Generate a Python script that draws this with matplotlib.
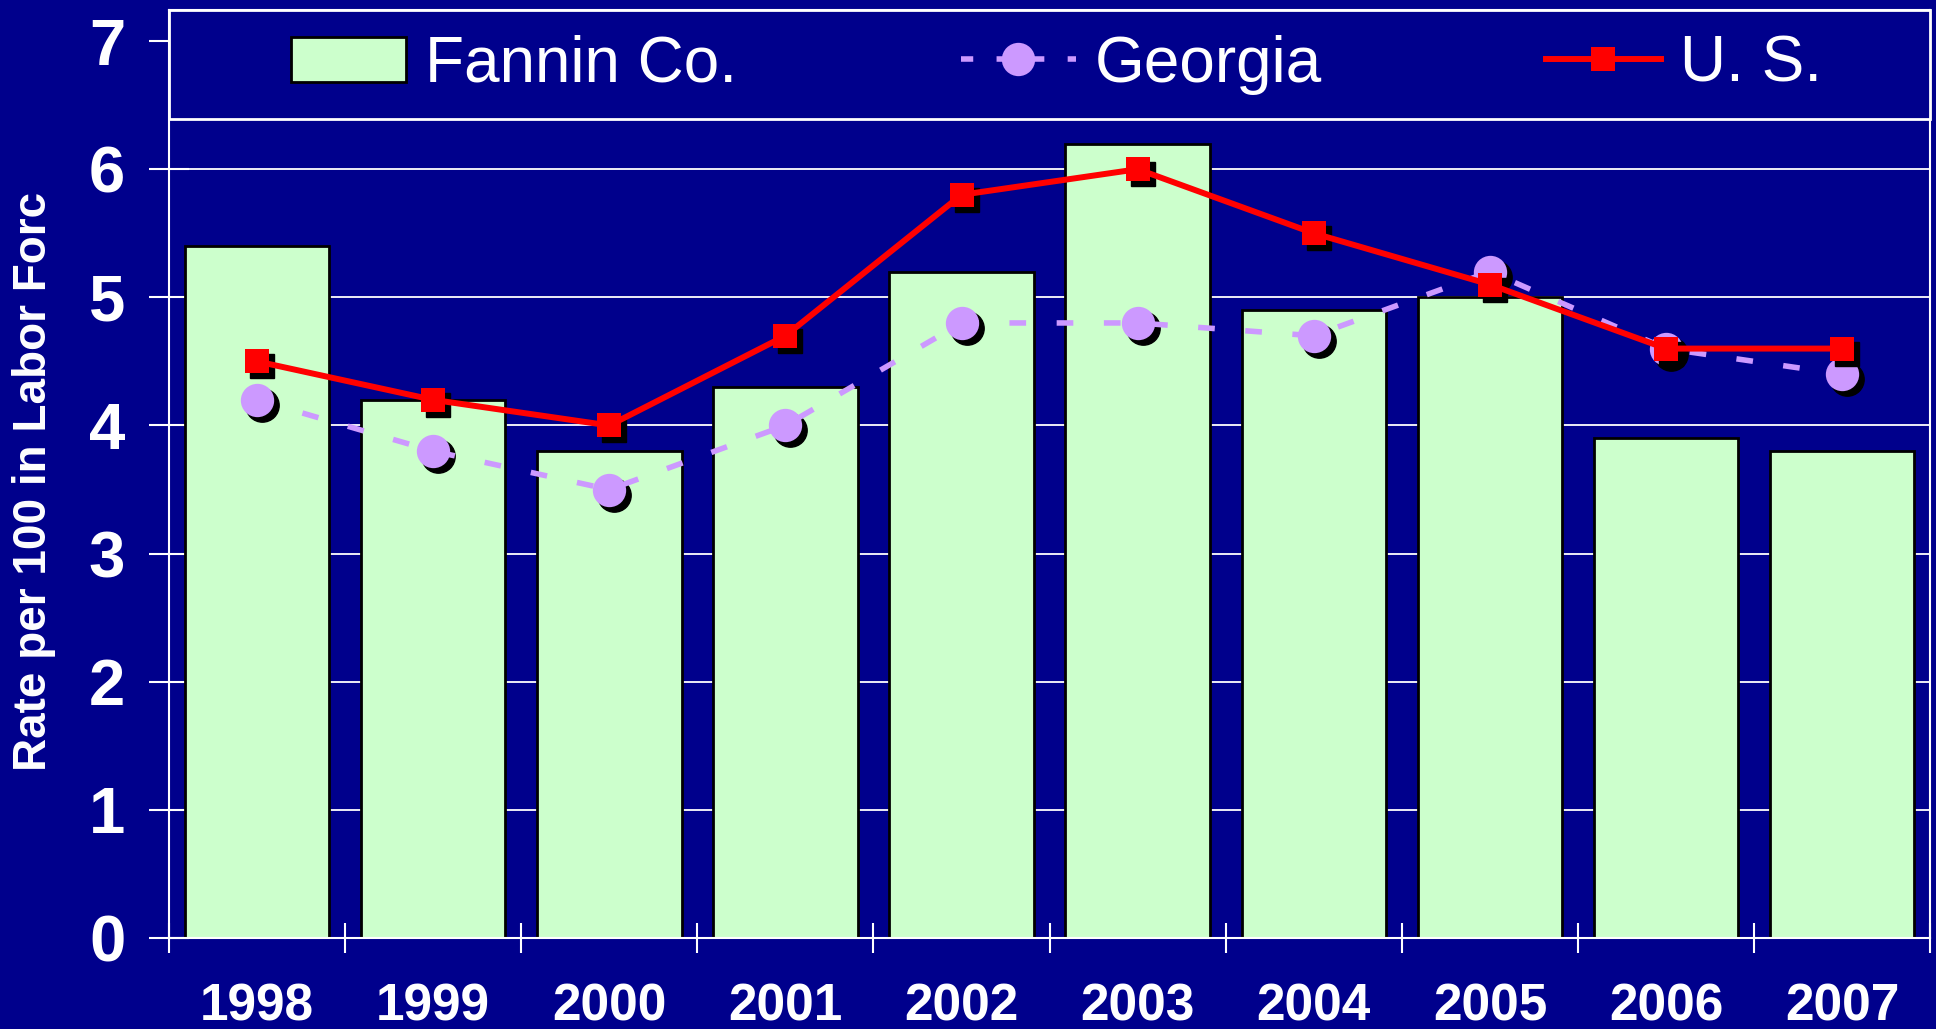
import matplotlib
matplotlib.use("Agg")
import matplotlib.pyplot as plt
import matplotlib.transforms as mtransforms
from matplotlib.lines import Line2D
from matplotlib.patches import Patch, Rectangle

years = ["1998", "1999", "2000", "2001", "2002", "2003", "2004", "2005", "2006", "2007"]
fannin = [5.4, 4.2, 3.8, 4.3, 5.2, 6.2, 4.9, 5.0, 3.9, 3.8]
georgia = [4.2, 3.8, 3.5, 4.0, 4.8, 4.8, 4.7, 5.2, 4.6, 4.4]
us = [4.5, 4.2, 4.0, 4.7, 5.8, 6.0, 5.5, 5.1, 4.6, 4.6]

navy = "#00008C"
green = "#CCFFCC"
lav = "#CC99FF"
red = "#FF0000"

plt.rcParams['font.family'] = ['Liberation Sans', 'DejaVu Sans']

fig = plt.figure(figsize=(19.36, 10.29), dpi=100, facecolor=navy)
ax = fig.add_axes([0.0873, 0.0884, 0.9097, 0.9016])
ax.set_facecolor(navy)

x = list(range(len(years)))
ax.bar(x, fannin, width=0.82, color=green, edgecolor="black", linewidth=2, zorder=2)

# black drop shadows under the markers
shadow = mtransforms.offset_copy(ax.transData, fig=fig, x=5, y=-5, units="dots")
ax.plot(x, georgia, linestyle="none", marker="o", markersize=24, color="black",
        transform=shadow, zorder=3)
ax.plot(x, georgia, color=lav, linewidth=4, dashes=(3, 5.5), marker="o",
        markersize=24, markeredgewidth=0, zorder=4)
ax.plot(x, us, linestyle="none", marker="s", markersize=17, color="black",
        transform=shadow, zorder=5)
ax.plot(x, us, color=red, linewidth=4.3, marker="s", markersize=17,
        markeredgewidth=0, zorder=6)

ax.set_xlim(-0.5, len(years) - 0.5)
ax.set_ylim(0, 7.24)
ax.set_yticks(range(0, 8))
ax.set_yticklabels([str(v) for v in range(0, 8)], fontsize=47, fontweight="bold", color="white")
ax.tick_params(axis="y", direction="inout", length=29, width=1.5, color="white", pad=17)

ax.set_xticks([i + 0.5 for i in range(-1, len(years))])
ax.set_xticklabels([])
ax.tick_params(axis="x", direction="inout", length=21, width=1.5, color="white")
for i, yr in enumerate(years):
    ax.text(i, -0.54, yr, ha="center", va="center", fontsize=37, fontweight="bold",
            color="white")

ax.yaxis.grid(True, color="white", linewidth=1.3, zorder=0)
ax.set_axisbelow(True)
for s in ax.spines.values():
    s.set_color("white")
    s.set_linewidth(1.5)

fig.text(34 / 1936, 1 - 481 / 1029, "Rate per 100 in Labor Forc", rotation=90,
         ha="center", va="center", fontsize=33, fontweight="bold", color="white")

# legend box spanning the top of the plot
box = Rectangle((0, 0.883), 1, 0.117, transform=ax.transAxes, facecolor=navy,
                edgecolor="white", linewidth=2, zorder=8, clip_on=False)
ax.add_patch(box)

handles = [
    Patch(facecolor=green, edgecolor="black", linewidth=2),
    Line2D([], [], color=lav, linewidth=4, dashes=(2.2, 4.2), marker="o", markersize=24,
           markeredgewidth=0),
    Line2D([], [], color=red, linewidth=4.3, marker="s", markersize=17, markeredgewidth=0),
]
leg = ax.legend(handles, ["Fannin Co.", "Georgia", "U. S."], loc="center",
                bbox_to_anchor=(0.004, 0.883, 1, 0.117), ncol=3, frameon=False,
                borderaxespad=0, handlelength=1.8, handletextpad=0.3, columnspacing=3.5,
                prop={"size": 46})
for t in leg.get_texts():
    t.set_color("white")
leg.set_zorder(10)

fig.savefig("out.png", dpi=100, facecolor=navy)
